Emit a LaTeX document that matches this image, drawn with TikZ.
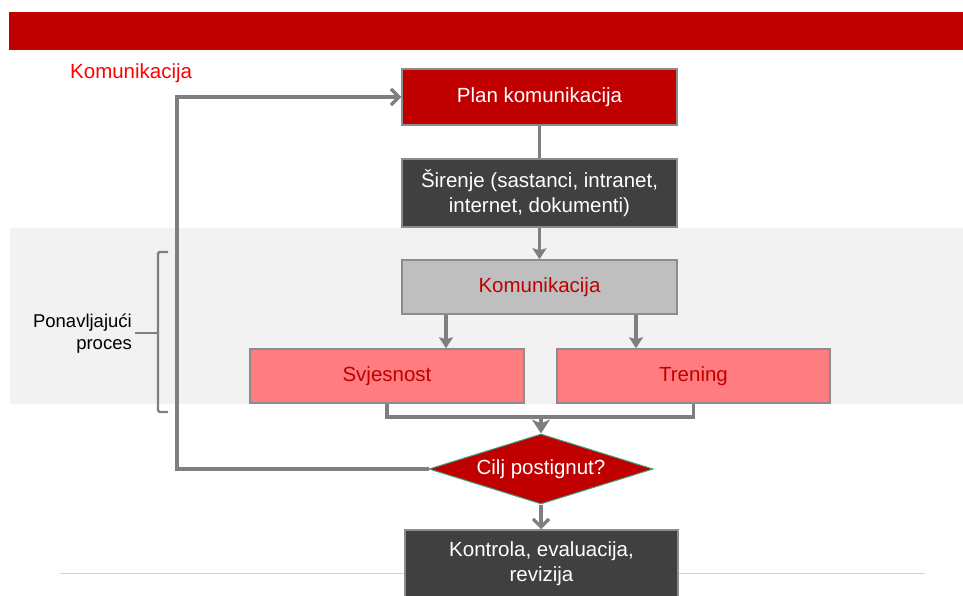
\documentclass[tikz,border=0pt]{standalone}
\usepackage{fontspec}
\setmainfont{Liberation Sans}
\usetikzlibrary{arrows.meta,shapes.geometric,calc}
\definecolor{dred}{HTML}{C00000}
\definecolor{dgray}{HTML}{404040}
\definecolor{lgray}{HTML}{BFBFBF}
\definecolor{pinkb}{HTML}{FF7C80}
\definecolor{band}{HTML}{F2F2F2}
\definecolor{lineg}{HTML}{7F7F7F}
\definecolor{bord}{HTML}{8C8C8C}
\definecolor{teal}{HTML}{3E9E7E}
\tikzset{
  box/.style={draw=bord, line width=1.5pt, minimum height=54pt, inner sep=2pt, align=center,
     font=\fontsize{20.5}{25}\selectfont},
  conn/.style={draw=lineg, line width=3.3pt},
  arrT/.style={conn, -{Stealth[width=14pt,length=11pt,inset=2pt]}},
  arrB/.style={conn, -{Stealth[width=18pt,length=14pt,inset=4pt]}},
  arrV/.style={conn, -{Straight Barb[width=16pt,length=8pt,line width=3.3pt]}},
  brk/.style={draw=lineg, line width=2.2pt, rounded corners=1.5pt},
}
\begin{document}
\begin{tikzpicture}[x=1pt,y=-1pt]
\useasboundingbox (0,0) rectangle (963,596);
\clip (0,0) rectangle (963,596);
% banner and band
\fill[dred] (9,12) rectangle (963,50);
\fill[band] (10,228) rectangle (963,404);
\draw[draw=lgray!70, line width=1pt] (60,573) -- (925,573);
% title
\node[anchor=west, text=red, font=\fontsize{20.5}{25}\selectfont, inner sep=0pt] (title) at (70,73) {Komunikacija};
% boxes
\node[box, fill=dred, text=white, minimum width=275pt, minimum height=56pt] (plan) at (539.5,97) {Plan komunikacija};
\node[box, fill=dgray, text=white, minimum width=275pt, minimum height=68pt] (sir) at (539.5,193) {Širenje (sastanci, intranet,\\internet, dokumenti)};
\node[box, fill=lgray, text=dred, minimum width=275pt] (kom) at (539.5,287) {Komunikacija};
\node[box, fill=pinkb, text=dred, minimum width=274pt] (sv) at (387,376) {Svjesnost};
\node[box, fill=pinkb, text=dred, minimum width=273pt] (tr) at (693.5,376) {Trening};
\node[diamond, draw=teal, line width=1pt, fill=dred, minimum width=224pt, minimum height=70pt, inner sep=0pt] (dia) at (541,469) {};
\node[text=white, font=\fontsize{20.5}{25}\selectfont] (diat) at (dia.center) {Cilj postignut?};
\node[box, fill=dgray, text=white, minimum width=273pt, minimum height=68pt] (kon) at (541.5,564) {Kontrola, evaluacija,\\revizija};
% connectors
\draw[conn] (plan.south) -- (sir.north);
\draw[arrT] (sir.south) -- (kom.north);
\coordinate (ka) at (446,0);
\coordinate (kb) at (636,0);
\draw[arrT] (kom.south -| ka) -- (sv.north -| ka);
\draw[arrT] (kom.south -| kb) -- (tr.north -| kb);
\coordinate (jn) at (541,417);
\draw[conn] (sv.south) |- (jn) -| (tr.south);
\draw[arrB] (jn) -- (dia.north);
\coordinate (lp) at (177,0);
\draw[arrV] (dia.west) -- (dia.west -| lp) |- (plan.west);
\draw[arrV] (dia.south) -- (dia.south |- kon.north);
% bracket
\coordinate (bt) at (158,252);
\coordinate (bb) at (158,412);
\coordinate (bm) at (158,333);
\draw[brk] ($(bt)+(10,0)$) -- (bt) -- (bb) -- ($(bb)+(10,0)$);
\node[anchor=east, align=right, inner sep=0pt, font=\fontsize{18.5}{22}\selectfont] (pon) at (132,334) {Ponavljajući\\proces};
\draw[brk] (pon.east |- bm) ++(3,0) -- (bm);
\end{tikzpicture}
\end{document}
